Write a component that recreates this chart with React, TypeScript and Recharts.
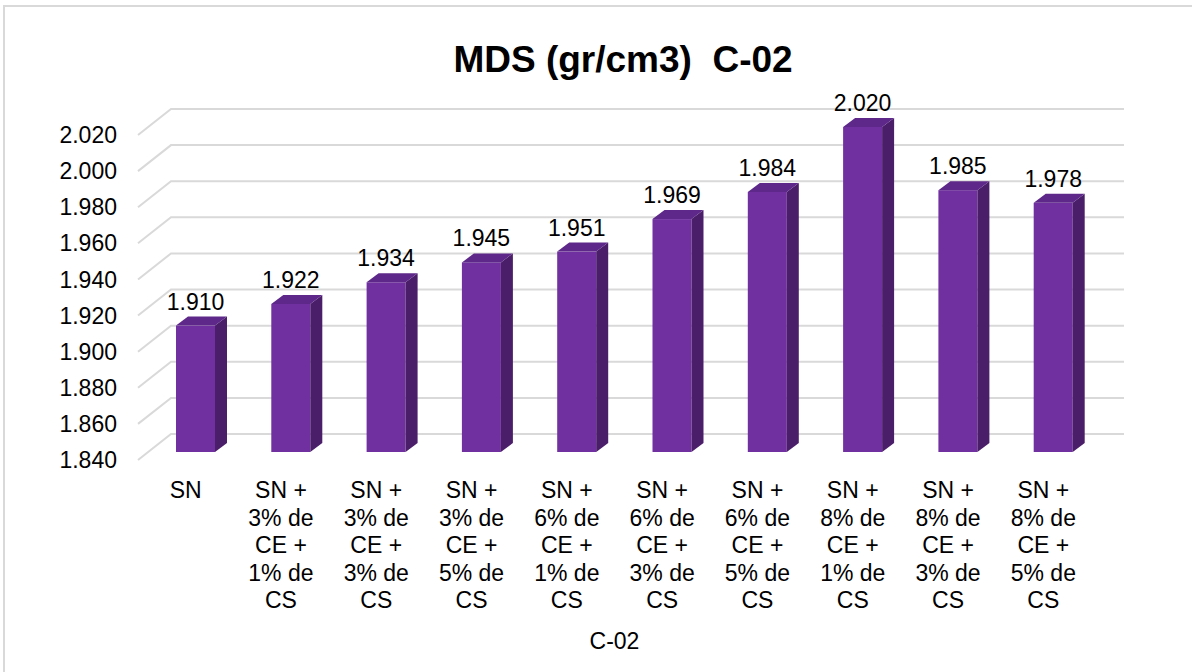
import { BarChart, Bar, XAxis, YAxis, CartesianGrid, LabelList } from 'recharts';

const categories = [
  'SN',
  'SN +\n3% de\nCE +\n1% de\nCS',
  'SN +\n3% de\nCE +\n3% de\nCS',
  'SN +\n3% de\nCE +\n5% de\nCS',
  'SN +\n6% de\nCE +\n1% de\nCS',
  'SN +\n6% de\nCE +\n3% de\nCS',
  'SN +\n6% de\nCE +\n5% de\nCS',
  'SN +\n8% de\nCE +\n1% de\nCS',
  'SN +\n8% de\nCE +\n3% de\nCS',
  'SN +\n8% de\nCE +\n5% de\nCS',
];
const mds = [1.91, 1.922, 1.934, 1.945, 1.951, 1.969, 1.984, 2.02, 1.985, 1.978];
const yTicks = [1.84, 1.86, 1.88, 1.9, 1.92, 1.94, 1.96, 1.98, 2.0, 2.02];

const data = categories.map((cat, i) => ({ cat, mds: mds[i] }));

const FONT = '"Liberation Sans", Arial, sans-serif';
const FRONT = '#7030A0';
const SIDE = '#4B1E69';
const TOP = '#5D2889';

// 3D-ish offsets (bar plane and back wall relative to the axis plane)
const BAR_DX = 10;
const BAR_DY = -8;
const DEPTH_X = 12;
const DEPTH_Y = 9;
const WALL_DX = 33;
const WALL_DY = -26;

const Bar3D = (props: any) => {
  const { x, y, width, height } = props;
  const fx = x + BAR_DX;
  const fy = y + BAR_DY;
  return (
    <g>
      <rect x={fx} y={fy} width={width} height={height} fill={FRONT} />
      <polygon
        points={`${fx + width},${fy} ${fx + width + DEPTH_X},${fy - DEPTH_Y} ${fx + width + DEPTH_X},${fy + height - DEPTH_Y} ${fx + width},${fy + height}`}
        fill={SIDE}
      />
      <polygon
        points={`${fx},${fy} ${fx + DEPTH_X},${fy - DEPTH_Y} ${fx + width + DEPTH_X},${fy - DEPTH_Y} ${fx + width},${fy}`}
        fill={TOP}
      />
    </g>
  );
};

const GridLine = (p: any) => (
  <path
    key={`g-${p.index}`}
    d={`M${p.x1},${p.y1} L${p.x1 + WALL_DX},${p.y1 + WALL_DY} L${p.x2 + WALL_DX},${p.y1 + WALL_DY}`}
    stroke="#d9d9d9"
    strokeWidth={2}
    fill="none"
  />
);

const CatTick = ({ x, y, payload }: any) => {
  const lines = String(payload.value).split('\n');
  return (
    <text x={x} y={y + 36} textAnchor="middle" fontSize={23} fontFamily={FONT} fill="#000">
      {lines.map((l, i) => (
        <tspan key={i} x={x} dy={i === 0 ? 0 : 27.6}>
          {l}
        </tspan>
      ))}
    </text>
  );
};

const ValueLabel = ({ x, y, width, value }: any) => (
  <text
    x={x + width / 2 + BAR_DX}
    y={y + BAR_DY - 16}
    textAnchor="middle"
    fontSize={23}
    fontFamily={FONT}
    fill="#000"
  >
    {Number(value).toFixed(3)}
  </text>
);

const AxisTitle = ({ viewBox }: any) => (
  <text
    x={viewBox.x + viewBox.width / 2}
    y={viewBox.y + 189}
    textAnchor="middle"
    fontSize={23}
    fontFamily={FONT}
    fill="#000"
  >
    C-02
  </text>
);

export default function App() {
  return (
    <div
      style={{
        position: 'fixed',
        left: 0,
        top: 0,
        width: 1192,
        height: 672,
        overflow: 'hidden',
        background: '#fff',
      }}
    >
      <div
        style={{
          position: 'absolute',
          left: 3,
          top: 5,
          width: 1300,
          height: 800,
          border: '2px solid #d9d9d9',
        }}
      />
      <div
        style={{
          position: 'absolute',
          left: 54,
          top: 41,
          width: 1138,
          textAlign: 'center',
          fontFamily: FONT,
          fontWeight: 'bold',
          fontSize: 37,
          lineHeight: '37px',
          whiteSpace: 'pre',
          color: '#000',
        }}
      >
        {'MDS (gr/cm3)  C-02'}
      </div>
      <div style={{ position: 'absolute', left: 0, top: 0 }}>
        <BarChart
          width={1192}
          height={672}
          data={data}
          margin={{ top: 135, right: 101, bottom: 0, left: 0 }}
        >
          <CartesianGrid vertical={false} horizontal={GridLine} />
          <XAxis
            dataKey="cat"
            interval={0}
            axisLine={false}
            tickLine={false}
            tickSize={0}
            height={212}
            tick={<CatTick />}
            label={<AxisTitle />}
          />
          <YAxis
            domain={[1.84, 2.02]}
            ticks={yTicks}
            width={138}
            axisLine={false}
            tickLine={false}
            tickSize={0}
            tickMargin={21}
            tickFormatter={(v: number) => v.toFixed(3)}
            tick={{ fontSize: 23, fontFamily: FONT, fill: '#000' }}
          />
          <Bar dataKey="mds" barSize={39} shape={<Bar3D />} isAnimationActive={false}>
            <LabelList dataKey="mds" content={<ValueLabel />} />
          </Bar>
        </BarChart>
      </div>
    </div>
  );
}
